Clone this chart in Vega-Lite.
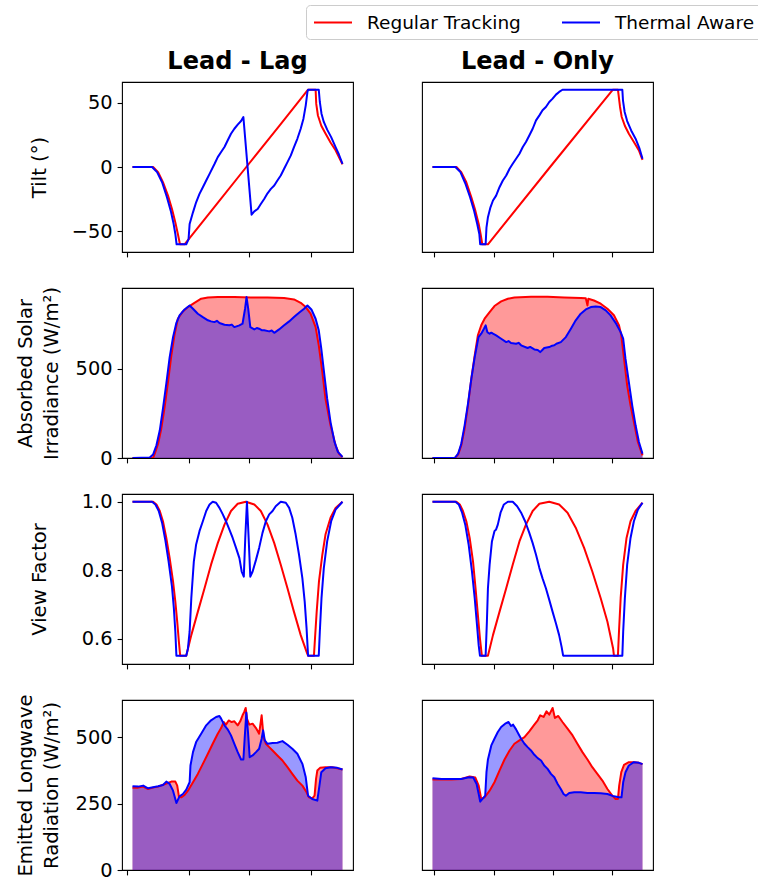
{
  "$schema": "https://vega.github.io/schema/vega-lite/v6.json",
  "padding": {"left": 14, "top": 4, "right": 0, "bottom": 0},
  "columns": 2,
  "spacing": {"row": 36, "column": 69},
  "bounds": "flush",
  "datasets": {
    "tilt_lag": [
      {"t":0,"m":"Regular Tracking","v":0},{"t":9.8,"m":"Regular Tracking","v":0},{"t":12.2,"m":"Regular Tracking","v":-4},{"t":14.5,"m":"Regular Tracking","v":-11.8},{"t":16.9,"m":"Regular Tracking","v":-22.2},{"t":18.8,"m":"Regular Tracking","v":-32.6},{"t":20.4,"m":"Regular Tracking","v":-43},{"t":21.6,"m":"Regular Tracking","v":-52},{"t":22.6,"m":"Regular Tracking","v":-60},{"t":24.8,"m":"Regular Tracking","v":-60},{"t":40,"m":"Regular Tracking","v":-29},{"t":54.2,"m":"Regular Tracking","v":0},{"t":70,"m":"Regular Tracking","v":32.2},{"t":83.6,"m":"Regular Tracking","v":60},{"t":87.2,"m":"Regular Tracking","v":60},{"t":87.5,"m":"Regular Tracking","v":49},{"t":88.3,"m":"Regular Tracking","v":40},{"t":89.9,"m":"Regular Tracking","v":32},{"t":91.9,"m":"Regular Tracking","v":26},{"t":94.3,"m":"Regular Tracking","v":19},{"t":96.7,"m":"Regular Tracking","v":13},{"t":98.7,"m":"Regular Tracking","v":6.4},{"t":100,"m":"Regular Tracking","v":2},
      {"t":0,"m":"Thermal Aware","v":0},{"t":9.3,"m":"Thermal Aware","v":0},{"t":11.7,"m":"Thermal Aware","v":-4},{"t":14.1,"m":"Thermal Aware","v":-11.8},{"t":16.4,"m":"Thermal Aware","v":-23.5},{"t":18.2,"m":"Thermal Aware","v":-33.9},{"t":19.6,"m":"Thermal Aware","v":-44.3},{"t":20.4,"m":"Thermal Aware","v":-52},{"t":21.0,"m":"Thermal Aware","v":-60},{"t":25.6,"m":"Thermal Aware","v":-60},{"t":26.7,"m":"Thermal Aware","v":-56},{"t":27.2,"m":"Thermal Aware","v":-44.3},{"t":28.8,"m":"Thermal Aware","v":-35.2},{"t":30.3,"m":"Thermal Aware","v":-27.4},{"t":31.9,"m":"Thermal Aware","v":-20.9},{"t":33.5,"m":"Thermal Aware","v":-15.7},{"t":35.1,"m":"Thermal Aware","v":-10.5},{"t":36.7,"m":"Thermal Aware","v":-5.3},{"t":39.1,"m":"Thermal Aware","v":2.5},{"t":40.6,"m":"Thermal Aware","v":7.7},{"t":42.2,"m":"Thermal Aware","v":11.6},{"t":43.8,"m":"Thermal Aware","v":15.5},{"t":45.3,"m":"Thermal Aware","v":20.6},{"t":46.9,"m":"Thermal Aware","v":25.8},{"t":48.5,"m":"Thermal Aware","v":29.7},{"t":50.1,"m":"Thermal Aware","v":32.9},{"t":51.7,"m":"Thermal Aware","v":35.7},{"t":52.8,"m":"Thermal Aware","v":38.8},{"t":56.7,"m":"Thermal Aware","v":-37},{"t":58.0,"m":"Thermal Aware","v":-34.4},{"t":59.6,"m":"Thermal Aware","v":-32.6},{"t":61.1,"m":"Thermal Aware","v":-28.7},{"t":62.7,"m":"Thermal Aware","v":-24.8},{"t":64.3,"m":"Thermal Aware","v":-20.4},{"t":65.9,"m":"Thermal Aware","v":-17},{"t":67.5,"m":"Thermal Aware","v":-14.4},{"t":69.0,"m":"Thermal Aware","v":-10.5},{"t":70.6,"m":"Thermal Aware","v":-6.6},{"t":72.2,"m":"Thermal Aware","v":-1.4},{"t":73.8,"m":"Thermal Aware","v":3.8},{"t":75.4,"m":"Thermal Aware","v":9},{"t":76.9,"m":"Thermal Aware","v":15.5},{"t":78.5,"m":"Thermal Aware","v":21.9},{"t":80.1,"m":"Thermal Aware","v":29.7},{"t":81.4,"m":"Thermal Aware","v":37.5},{"t":82.5,"m":"Thermal Aware","v":47.9},{"t":83.3,"m":"Thermal Aware","v":58.3},{"t":83.6,"m":"Thermal Aware","v":60},{"t":88.7,"m":"Thermal Aware","v":60},{"t":89.2,"m":"Thermal Aware","v":50.5},{"t":90.0,"m":"Thermal Aware","v":41.4},{"t":91.1,"m":"Thermal Aware","v":35},{"t":92.7,"m":"Thermal Aware","v":29},{"t":94.6,"m":"Thermal Aware","v":23.2},{"t":96.7,"m":"Thermal Aware","v":15.5},{"t":98.3,"m":"Thermal Aware","v":9.7},{"t":100,"m":"Thermal Aware","v":2.5}
    ],
    "tilt_only": [
      {"t":0,"m":"Regular Tracking","v":0},{"t":11.4,"m":"Regular Tracking","v":0},{"t":13.7,"m":"Regular Tracking","v":-4},{"t":16.1,"m":"Regular Tracking","v":-11.8},{"t":18.5,"m":"Regular Tracking","v":-23.5},{"t":20.4,"m":"Regular Tracking","v":-33.9},{"t":22.0,"m":"Regular Tracking","v":-44.3},{"t":22.9,"m":"Regular Tracking","v":-52},{"t":23.7,"m":"Regular Tracking","v":-60},{"t":26.4,"m":"Regular Tracking","v":-60},{"t":56,"m":"Regular Tracking","v":0},{"t":85.9,"m":"Regular Tracking","v":60},{"t":88.3,"m":"Regular Tracking","v":60},{"t":89.3,"m":"Regular Tracking","v":46.6},{"t":90.1,"m":"Regular Tracking","v":38.8},{"t":91.7,"m":"Regular Tracking","v":31.6},{"t":93.5,"m":"Regular Tracking","v":25.8},{"t":95.9,"m":"Regular Tracking","v":19.4},{"t":98.3,"m":"Regular Tracking","v":12.9},{"t":100,"m":"Regular Tracking","v":5.6},
      {"t":0,"m":"Thermal Aware","v":0},{"t":10.9,"m":"Thermal Aware","v":0},{"t":13.3,"m":"Thermal Aware","v":-4},{"t":15.6,"m":"Thermal Aware","v":-12.6},{"t":17.9,"m":"Thermal Aware","v":-23.5},{"t":19.8,"m":"Thermal Aware","v":-33.9},{"t":21.3,"m":"Thermal Aware","v":-44.3},{"t":22.3,"m":"Thermal Aware","v":-52},{"t":22.7,"m":"Thermal Aware","v":-60},{"t":25.3,"m":"Thermal Aware","v":-60},{"t":25.7,"m":"Thermal Aware","v":-47},{"t":26.4,"m":"Thermal Aware","v":-39},{"t":27.6,"m":"Thermal Aware","v":-31.3},{"t":28.8,"m":"Thermal Aware","v":-26},{"t":30.3,"m":"Thermal Aware","v":-22.2},{"t":31.9,"m":"Thermal Aware","v":-15.7},{"t":33.5,"m":"Thermal Aware","v":-10.5},{"t":35.1,"m":"Thermal Aware","v":-6.6},{"t":36.7,"m":"Thermal Aware","v":-1.4},{"t":38.2,"m":"Thermal Aware","v":2.5},{"t":39.8,"m":"Thermal Aware","v":6.4},{"t":41.4,"m":"Thermal Aware","v":10.3},{"t":43.0,"m":"Thermal Aware","v":15.5},{"t":44.5,"m":"Thermal Aware","v":19.4},{"t":46.1,"m":"Thermal Aware","v":24.5},{"t":47.7,"m":"Thermal Aware","v":29.7},{"t":49.3,"m":"Thermal Aware","v":36.2},{"t":50.9,"m":"Thermal Aware","v":40.1},{"t":52.4,"m":"Thermal Aware","v":44},{"t":54.0,"m":"Thermal Aware","v":46.6},{"t":55.6,"m":"Thermal Aware","v":50.5},{"t":57.2,"m":"Thermal Aware","v":53.1},{"t":58.8,"m":"Thermal Aware","v":56.2},{"t":60.3,"m":"Thermal Aware","v":58.3},{"t":61.9,"m":"Thermal Aware","v":60},{"t":90.4,"m":"Thermal Aware","v":60},{"t":90.7,"m":"Thermal Aware","v":51.8},{"t":91.5,"m":"Thermal Aware","v":42.7},{"t":92.7,"m":"Thermal Aware","v":35.7},{"t":94.6,"m":"Thermal Aware","v":28.4},{"t":96.7,"m":"Thermal Aware","v":22},{"t":98.6,"m":"Thermal Aware","v":14.2},{"t":100,"m":"Thermal Aware","v":6.4}
    ],
    "sol_lag": [
      {"t":0,"m":"Regular Tracking","v":0},{"t":9.8,"m":"Regular Tracking","v":0},{"t":10.6,"m":"Regular Tracking","v":24},{"t":12.2,"m":"Regular Tracking","v":80},{"t":13.7,"m":"Regular Tracking","v":164},{"t":15.3,"m":"Regular Tracking","v":285},{"t":16.9,"m":"Regular Tracking","v":425},{"t":18.5,"m":"Regular Tracking","v":575},{"t":20.1,"m":"Regular Tracking","v":696},{"t":21.6,"m":"Regular Tracking","v":780},{"t":24.0,"m":"Regular Tracking","v":821},{"t":26.4,"m":"Regular Tracking","v":845},{"t":29.5,"m":"Regular Tracking","v":869},{"t":32.7,"m":"Regular Tracking","v":892},{"t":35.9,"m":"Regular Tracking","v":899},{"t":40.6,"m":"Regular Tracking","v":901},{"t":48.5,"m":"Regular Tracking","v":901},{"t":56.4,"m":"Regular Tracking","v":899},{"t":64.3,"m":"Regular Tracking","v":899},{"t":72.2,"m":"Regular Tracking","v":896},{"t":76.9,"m":"Regular Tracking","v":888},{"t":80.1,"m":"Regular Tracking","v":869},{"t":82.5,"m":"Regular Tracking","v":845},{"t":84.8,"m":"Regular Tracking","v":808},{"t":87.2,"m":"Regular Tracking","v":733},{"t":88.7,"m":"Regular Tracking","v":631},{"t":90.4,"m":"Regular Tracking","v":481},{"t":91.9,"m":"Regular Tracking","v":332},{"t":94.3,"m":"Regular Tracking","v":183},{"t":96.7,"m":"Regular Tracking","v":71},{"t":98.3,"m":"Regular Tracking","v":24},{"t":100,"m":"Regular Tracking","v":5},
      {"t":0,"m":"Thermal Aware","v":0},{"t":8.2,"m":"Thermal Aware","v":3},{"t":9.8,"m":"Thermal Aware","v":19},{"t":11.4,"m":"Thermal Aware","v":71},{"t":13.0,"m":"Thermal Aware","v":155},{"t":14.5,"m":"Thermal Aware","v":276},{"t":16.1,"m":"Thermal Aware","v":416},{"t":17.7,"m":"Thermal Aware","v":565},{"t":19.3,"m":"Thermal Aware","v":677},{"t":20.9,"m":"Thermal Aware","v":757},{"t":22.4,"m":"Thermal Aware","v":799},{"t":24.8,"m":"Thermal Aware","v":832},{"t":27.2,"m":"Thermal Aware","v":854},{"t":28.8,"m":"Thermal Aware","v":836},{"t":31.1,"m":"Thermal Aware","v":808},{"t":33.5,"m":"Thermal Aware","v":789},{"t":35.9,"m":"Thermal Aware","v":771},{"t":37.4,"m":"Thermal Aware","v":765},{"t":39.0,"m":"Thermal Aware","v":761},{"t":40.2,"m":"Thermal Aware","v":768},{"t":41.4,"m":"Thermal Aware","v":756},{"t":43.8,"m":"Thermal Aware","v":746},{"t":46.1,"m":"Thermal Aware","v":743},{"t":47.3,"m":"Thermal Aware","v":747},{"t":48.5,"m":"Thermal Aware","v":733},{"t":50.9,"m":"Thermal Aware","v":743},{"t":52.4,"m":"Thermal Aware","v":752},{"t":53.6,"m":"Thermal Aware","v":836},{"t":54.3,"m":"Thermal Aware","v":901},{"t":55.1,"m":"Thermal Aware","v":836},{"t":56.1,"m":"Thermal Aware","v":733},{"t":58.0,"m":"Thermal Aware","v":720},{"t":59.2,"m":"Thermal Aware","v":728},{"t":60.3,"m":"Thermal Aware","v":724},{"t":61.5,"m":"Thermal Aware","v":716},{"t":62.7,"m":"Thermal Aware","v":715},{"t":65.1,"m":"Thermal Aware","v":709},{"t":66.3,"m":"Thermal Aware","v":714},{"t":67.5,"m":"Thermal Aware","v":701},{"t":69.8,"m":"Thermal Aware","v":720},{"t":72.2,"m":"Thermal Aware","v":743},{"t":74.6,"m":"Thermal Aware","v":765},{"t":76.9,"m":"Thermal Aware","v":789},{"t":79.3,"m":"Thermal Aware","v":813},{"t":81.7,"m":"Thermal Aware","v":836},{"t":83.3,"m":"Thermal Aware","v":854},{"t":85.2,"m":"Thermal Aware","v":832},{"t":87.2,"m":"Thermal Aware","v":780},{"t":88.7,"m":"Thermal Aware","v":715},{"t":89.9,"m":"Thermal Aware","v":612},{"t":91.2,"m":"Thermal Aware","v":481},{"t":92.7,"m":"Thermal Aware","v":332},{"t":94.3,"m":"Thermal Aware","v":201},{"t":96.2,"m":"Thermal Aware","v":90},{"t":97.8,"m":"Thermal Aware","v":34},{"t":100,"m":"Thermal Aware","v":6}
    ],
    "sol_only": [
      {"t":0,"m":"Regular Tracking","v":0},{"t":10.6,"m":"Regular Tracking","v":0},{"t":12.2,"m":"Regular Tracking","v":19},{"t":13.7,"m":"Regular Tracking","v":71},{"t":15.3,"m":"Regular Tracking","v":164},{"t":16.9,"m":"Regular Tracking","v":295},{"t":18.5,"m":"Regular Tracking","v":444},{"t":20.1,"m":"Regular Tracking","v":575},{"t":21.6,"m":"Regular Tracking","v":687},{"t":23.2,"m":"Regular Tracking","v":743},{"t":24.8,"m":"Regular Tracking","v":780},{"t":27.2,"m":"Regular Tracking","v":817},{"t":29.5,"m":"Regular Tracking","v":851},{"t":32.7,"m":"Regular Tracking","v":877},{"t":35.9,"m":"Regular Tracking","v":892},{"t":39.0,"m":"Regular Tracking","v":899},{"t":46.9,"m":"Regular Tracking","v":903},{"t":54.8,"m":"Regular Tracking","v":903},{"t":62.7,"m":"Regular Tracking","v":899},{"t":70.6,"m":"Regular Tracking","v":896},{"t":73.0,"m":"Regular Tracking","v":894},{"t":73.8,"m":"Regular Tracking","v":854},{"t":74.2,"m":"Regular Tracking","v":892},{"t":76.9,"m":"Regular Tracking","v":882},{"t":80.1,"m":"Regular Tracking","v":864},{"t":83.3,"m":"Regular Tracking","v":836},{"t":86.4,"m":"Regular Tracking","v":799},{"t":88.8,"m":"Regular Tracking","v":743},{"t":89.9,"m":"Regular Tracking","v":687},{"t":91.2,"m":"Regular Tracking","v":556},{"t":92.7,"m":"Regular Tracking","v":407},{"t":94.3,"m":"Regular Tracking","v":295},{"t":95.9,"m":"Regular Tracking","v":201},{"t":97.8,"m":"Regular Tracking","v":90},{"t":100,"m":"Regular Tracking","v":15},
      {"t":0,"m":"Thermal Aware","v":0},{"t":10.6,"m":"Thermal Aware","v":0},{"t":12.2,"m":"Thermal Aware","v":24},{"t":13.7,"m":"Thermal Aware","v":80},{"t":15.3,"m":"Thermal Aware","v":183},{"t":16.9,"m":"Thermal Aware","v":304},{"t":18.5,"m":"Thermal Aware","v":444},{"t":20.1,"m":"Thermal Aware","v":565},{"t":21.9,"m":"Thermal Aware","v":677},{"t":23.2,"m":"Thermal Aware","v":696},{"t":24.5,"m":"Thermal Aware","v":724},{"t":25.3,"m":"Thermal Aware","v":743},{"t":26.1,"m":"Thermal Aware","v":705},{"t":27.2,"m":"Thermal Aware","v":696},{"t":28.0,"m":"Thermal Aware","v":702},{"t":28.8,"m":"Thermal Aware","v":696},{"t":30.3,"m":"Thermal Aware","v":687},{"t":32.7,"m":"Thermal Aware","v":668},{"t":35.1,"m":"Thermal Aware","v":649},{"t":36.2,"m":"Thermal Aware","v":655},{"t":37.4,"m":"Thermal Aware","v":644},{"t":39.8,"m":"Thermal Aware","v":640},{"t":41.0,"m":"Thermal Aware","v":645},{"t":42.2,"m":"Thermal Aware","v":631},{"t":45.3,"m":"Thermal Aware","v":616},{"t":46.5,"m":"Thermal Aware","v":622},{"t":48.5,"m":"Thermal Aware","v":608},{"t":50.1,"m":"Thermal Aware","v":605},{"t":51.3,"m":"Thermal Aware","v":593},{"t":52.3,"m":"Thermal Aware","v":605},{"t":53.2,"m":"Thermal Aware","v":616},{"t":55.6,"m":"Thermal Aware","v":621},{"t":57.0,"m":"Thermal Aware","v":629},{"t":58.0,"m":"Thermal Aware","v":631},{"t":59.0,"m":"Thermal Aware","v":640},{"t":61.1,"m":"Thermal Aware","v":649},{"t":63.5,"m":"Thermal Aware","v":677},{"t":65.9,"m":"Thermal Aware","v":724},{"t":68.2,"m":"Thermal Aware","v":771},{"t":70.6,"m":"Thermal Aware","v":808},{"t":73.0,"m":"Thermal Aware","v":832},{"t":75.4,"m":"Thermal Aware","v":845},{"t":77.7,"m":"Thermal Aware","v":849},{"t":80.1,"m":"Thermal Aware","v":845},{"t":82.5,"m":"Thermal Aware","v":827},{"t":84.8,"m":"Thermal Aware","v":799},{"t":87.2,"m":"Thermal Aware","v":757},{"t":89.6,"m":"Thermal Aware","v":705},{"t":90.8,"m":"Thermal Aware","v":668},{"t":91.9,"m":"Thermal Aware","v":556},{"t":93.5,"m":"Thermal Aware","v":425},{"t":95.1,"m":"Thermal Aware","v":295},{"t":96.7,"m":"Thermal Aware","v":183},{"t":98.3,"m":"Thermal Aware","v":90},{"t":100,"m":"Thermal Aware","v":24}
    ],
    "vf_lag": [
      {"t":0,"m":"Regular Tracking","v":1},{"t":9.8,"m":"Regular Tracking","v":1},{"t":11.4,"m":"Regular Tracking","v":0.992},{"t":13.0,"m":"Regular Tracking","v":0.973},{"t":14.5,"m":"Regular Tracking","v":0.943},{"t":16.1,"m":"Regular Tracking","v":0.894},{"t":17.7,"m":"Regular Tracking","v":0.835},{"t":19.3,"m":"Regular Tracking","v":0.767},{"t":20.4,"m":"Regular Tracking","v":0.708},{"t":21.3,"m":"Regular Tracking","v":0.649},{"t":22.1,"m":"Regular Tracking","v":0.59},{"t":22.7,"m":"Regular Tracking","v":0.55},{"t":25.6,"m":"Regular Tracking","v":0.55},{"t":28.0,"m":"Regular Tracking","v":0.61},{"t":31.1,"m":"Regular Tracking","v":0.678},{"t":34.3,"m":"Regular Tracking","v":0.747},{"t":37.4,"m":"Regular Tracking","v":0.816},{"t":40.6,"m":"Regular Tracking","v":0.879},{"t":43.8,"m":"Regular Tracking","v":0.933},{"t":46.9,"m":"Regular Tracking","v":0.973},{"t":50.1,"m":"Regular Tracking","v":0.994},{"t":54.0,"m":"Regular Tracking","v":1.0},{"t":58.0,"m":"Regular Tracking","v":0.992},{"t":61.1,"m":"Regular Tracking","v":0.973},{"t":64.3,"m":"Regular Tracking","v":0.933},{"t":67.5,"m":"Regular Tracking","v":0.879},{"t":70.6,"m":"Regular Tracking","v":0.816},{"t":73.8,"m":"Regular Tracking","v":0.747},{"t":76.9,"m":"Regular Tracking","v":0.678},{"t":80.1,"m":"Regular Tracking","v":0.61},{"t":82.9,"m":"Regular Tracking","v":0.561},{"t":83.6,"m":"Regular Tracking","v":0.55},{"t":86.4,"m":"Regular Tracking","v":0.55},{"t":86.9,"m":"Regular Tracking","v":0.6},{"t":87.7,"m":"Regular Tracking","v":0.678},{"t":88.8,"m":"Regular Tracking","v":0.767},{"t":90.4,"m":"Regular Tracking","v":0.845},{"t":91.9,"m":"Regular Tracking","v":0.904},{"t":94.3,"m":"Regular Tracking","v":0.953},{"t":96.7,"m":"Regular Tracking","v":0.982},{"t":100,"m":"Regular Tracking","v":1.0},
      {"t":0,"m":"Thermal Aware","v":1},{"t":9.3,"m":"Thermal Aware","v":1},{"t":10.9,"m":"Thermal Aware","v":0.992},{"t":12.5,"m":"Thermal Aware","v":0.973},{"t":14.1,"m":"Thermal Aware","v":0.938},{"t":15.6,"m":"Thermal Aware","v":0.889},{"t":17.2,"m":"Thermal Aware","v":0.825},{"t":18.8,"m":"Thermal Aware","v":0.752},{"t":19.7,"m":"Thermal Aware","v":0.688},{"t":20.4,"m":"Thermal Aware","v":0.62},{"t":20.9,"m":"Thermal Aware","v":0.55},{"t":25.6,"m":"Thermal Aware","v":0.55},{"t":26.4,"m":"Thermal Aware","v":0.571},{"t":27.2,"m":"Thermal Aware","v":0.62},{"t":28.0,"m":"Thermal Aware","v":0.718},{"t":29.2,"m":"Thermal Aware","v":0.825},{"t":30.3,"m":"Thermal Aware","v":0.875},{"t":31.9,"m":"Thermal Aware","v":0.914},{"t":33.5,"m":"Thermal Aware","v":0.943},{"t":35.1,"m":"Thermal Aware","v":0.973},{"t":36.7,"m":"Thermal Aware","v":0.992},{"t":38.2,"m":"Thermal Aware","v":1.0},{"t":39.8,"m":"Thermal Aware","v":0.997},{"t":41.4,"m":"Thermal Aware","v":0.982},{"t":43.0,"m":"Thermal Aware","v":0.963},{"t":44.5,"m":"Thermal Aware","v":0.943},{"t":46.1,"m":"Thermal Aware","v":0.919},{"t":47.7,"m":"Thermal Aware","v":0.894},{"t":49.3,"m":"Thermal Aware","v":0.865},{"t":50.9,"m":"Thermal Aware","v":0.835},{"t":52.0,"m":"Thermal Aware","v":0.796},{"t":53.0,"m":"Thermal Aware","v":0.781},{"t":53.7,"m":"Thermal Aware","v":0.894},{"t":54.5,"m":"Thermal Aware","v":1.0},{"t":55.3,"m":"Thermal Aware","v":0.894},{"t":56.1,"m":"Thermal Aware","v":0.781},{"t":57.2,"m":"Thermal Aware","v":0.796},{"t":58.8,"m":"Thermal Aware","v":0.83},{"t":60.3,"m":"Thermal Aware","v":0.865},{"t":61.9,"m":"Thermal Aware","v":0.909},{"t":63.5,"m":"Thermal Aware","v":0.943},{"t":65.1,"m":"Thermal Aware","v":0.963},{"t":66.7,"m":"Thermal Aware","v":0.973},{"t":68.2,"m":"Thermal Aware","v":0.987},{"t":70.6,"m":"Thermal Aware","v":1.0},{"t":73.0,"m":"Thermal Aware","v":0.997},{"t":74.6,"m":"Thermal Aware","v":0.982},{"t":76.1,"m":"Thermal Aware","v":0.953},{"t":77.7,"m":"Thermal Aware","v":0.904},{"t":79.3,"m":"Thermal Aware","v":0.845},{"t":80.9,"m":"Thermal Aware","v":0.776},{"t":82.0,"m":"Thermal Aware","v":0.708},{"t":82.9,"m":"Thermal Aware","v":0.629},{"t":83.6,"m":"Thermal Aware","v":0.55},{"t":88.7,"m":"Thermal Aware","v":0.55},{"t":89.2,"m":"Thermal Aware","v":0.62},{"t":90.0,"m":"Thermal Aware","v":0.718},{"t":91.1,"m":"Thermal Aware","v":0.806},{"t":92.7,"m":"Thermal Aware","v":0.884},{"t":94.6,"m":"Thermal Aware","v":0.943},{"t":96.7,"m":"Thermal Aware","v":0.977},{"t":100,"m":"Thermal Aware","v":1.0}
    ],
    "vf_only": [
      {"t":0,"m":"Regular Tracking","v":1},{"t":11.4,"m":"Regular Tracking","v":1},{"t":13.0,"m":"Regular Tracking","v":0.992},{"t":14.5,"m":"Regular Tracking","v":0.973},{"t":16.1,"m":"Regular Tracking","v":0.943},{"t":17.7,"m":"Regular Tracking","v":0.894},{"t":19.3,"m":"Regular Tracking","v":0.825},{"t":20.5,"m":"Regular Tracking","v":0.747},{"t":21.6,"m":"Regular Tracking","v":0.669},{"t":22.6,"m":"Regular Tracking","v":0.6},{"t":23.5,"m":"Regular Tracking","v":0.55},{"t":26.4,"m":"Regular Tracking","v":0.55},{"t":28.8,"m":"Regular Tracking","v":0.61},{"t":31.9,"m":"Regular Tracking","v":0.678},{"t":35.1,"m":"Regular Tracking","v":0.747},{"t":38.2,"m":"Regular Tracking","v":0.816},{"t":41.4,"m":"Regular Tracking","v":0.884},{"t":44.5,"m":"Regular Tracking","v":0.933},{"t":47.7,"m":"Regular Tracking","v":0.973},{"t":50.9,"m":"Regular Tracking","v":0.994},{"t":55.6,"m":"Regular Tracking","v":1.0},{"t":60.3,"m":"Regular Tracking","v":0.992},{"t":64.3,"m":"Regular Tracking","v":0.968},{"t":68.2,"m":"Regular Tracking","v":0.924},{"t":72.2,"m":"Regular Tracking","v":0.865},{"t":76.1,"m":"Regular Tracking","v":0.796},{"t":80.1,"m":"Regular Tracking","v":0.718},{"t":83.3,"m":"Regular Tracking","v":0.649},{"t":86.0,"m":"Regular Tracking","v":0.571},{"t":86.4,"m":"Regular Tracking","v":0.55},{"t":88.3,"m":"Regular Tracking","v":0.55},{"t":88.8,"m":"Regular Tracking","v":0.62},{"t":89.6,"m":"Regular Tracking","v":0.718},{"t":90.8,"m":"Regular Tracking","v":0.816},{"t":92.4,"m":"Regular Tracking","v":0.894},{"t":94.3,"m":"Regular Tracking","v":0.943},{"t":96.7,"m":"Regular Tracking","v":0.973},{"t":100,"m":"Regular Tracking","v":0.997},
      {"t":0,"m":"Thermal Aware","v":1},{"t":10.9,"m":"Thermal Aware","v":1},{"t":12.5,"m":"Thermal Aware","v":0.992},{"t":14.1,"m":"Thermal Aware","v":0.968},{"t":15.6,"m":"Thermal Aware","v":0.933},{"t":17.2,"m":"Thermal Aware","v":0.875},{"t":18.8,"m":"Thermal Aware","v":0.796},{"t":20.1,"m":"Thermal Aware","v":0.718},{"t":21.2,"m":"Thermal Aware","v":0.639},{"t":22.0,"m":"Thermal Aware","v":0.58},{"t":22.6,"m":"Thermal Aware","v":0.55},{"t":25.3,"m":"Thermal Aware","v":0.55},{"t":25.9,"m":"Thermal Aware","v":0.649},{"t":26.4,"m":"Thermal Aware","v":0.747},{"t":27.2,"m":"Thermal Aware","v":0.816},{"t":28.3,"m":"Thermal Aware","v":0.884},{"t":29.5,"m":"Thermal Aware","v":0.914},{"t":30.3,"m":"Thermal Aware","v":0.919},{"t":31.1,"m":"Thermal Aware","v":0.933},{"t":32.4,"m":"Thermal Aware","v":0.968},{"t":34.0,"m":"Thermal Aware","v":0.992},{"t":35.9,"m":"Thermal Aware","v":1.0},{"t":38.2,"m":"Thermal Aware","v":1.0},{"t":40.3,"m":"Thermal Aware","v":0.987},{"t":42.2,"m":"Thermal Aware","v":0.968},{"t":44.1,"m":"Thermal Aware","v":0.943},{"t":46.1,"m":"Thermal Aware","v":0.909},{"t":47.7,"m":"Thermal Aware","v":0.879},{"t":49.3,"m":"Thermal Aware","v":0.845},{"t":50.9,"m":"Thermal Aware","v":0.806},{"t":52.4,"m":"Thermal Aware","v":0.776},{"t":54.0,"m":"Thermal Aware","v":0.747},{"t":55.6,"m":"Thermal Aware","v":0.713},{"t":57.2,"m":"Thermal Aware","v":0.678},{"t":58.8,"m":"Thermal Aware","v":0.644},{"t":60.3,"m":"Thermal Aware","v":0.61},{"t":61.5,"m":"Thermal Aware","v":0.575},{"t":62.2,"m":"Thermal Aware","v":0.55},{"t":90.4,"m":"Thermal Aware","v":0.55},{"t":90.8,"m":"Thermal Aware","v":0.62},{"t":91.6,"m":"Thermal Aware","v":0.718},{"t":92.7,"m":"Thermal Aware","v":0.816},{"t":94.3,"m":"Thermal Aware","v":0.894},{"t":95.9,"m":"Thermal Aware","v":0.943},{"t":97.8,"m":"Thermal Aware","v":0.977},{"t":100,"m":"Thermal Aware","v":0.997}
    ],
    "lw_lag": [
      {"t":0,"m":"Regular Tracking","v":310.6},{"t":2.7,"m":"Regular Tracking","v":310.6},{"t":5.1,"m":"Regular Tracking","v":314.4},{"t":7.4,"m":"Regular Tracking","v":305.5},{"t":9.8,"m":"Regular Tracking","v":310.6},{"t":12.2,"m":"Regular Tracking","v":314.4},{"t":15.3,"m":"Regular Tracking","v":323.2},{"t":18.5,"m":"Regular Tracking","v":333.3},{"t":20.4,"m":"Regular Tracking","v":333.3},{"t":21.3,"m":"Regular Tracking","v":318.2},{"t":22.1,"m":"Regular Tracking","v":277.8},{"t":23.2,"m":"Regular Tracking","v":274},{"t":24.8,"m":"Regular Tracking","v":282.8},{"t":26.4,"m":"Regular Tracking","v":299.2},{"t":28.8,"m":"Regular Tracking","v":330.8},{"t":31.1,"m":"Regular Tracking","v":362.4},{"t":33.5,"m":"Regular Tracking","v":400.2},{"t":35.9,"m":"Regular Tracking","v":438.1},{"t":38.2,"m":"Regular Tracking","v":476},{"t":40.6,"m":"Regular Tracking","v":513.9},{"t":42.2,"m":"Regular Tracking","v":535.3},{"t":43.4,"m":"Regular Tracking","v":558},{"t":44.5,"m":"Regular Tracking","v":548},{"t":45.8,"m":"Regular Tracking","v":564},{"t":47.2,"m":"Regular Tracking","v":558},{"t":48.5,"m":"Regular Tracking","v":560.6},{"t":50.1,"m":"Regular Tracking","v":545.4},{"t":51.3,"m":"Regular Tracking","v":560.6},{"t":52.4,"m":"Regular Tracking","v":583.3},{"t":53.2,"m":"Regular Tracking","v":596},{"t":53.9,"m":"Regular Tracking","v":611},{"t":54.5,"m":"Regular Tracking","v":570.7},{"t":55.6,"m":"Regular Tracking","v":548},{"t":57.2,"m":"Regular Tracking","v":551.8},{"t":58.8,"m":"Regular Tracking","v":535.3},{"t":60.3,"m":"Regular Tracking","v":513.9},{"t":61.5,"m":"Regular Tracking","v":583.3},{"t":62.4,"m":"Regular Tracking","v":501.3},{"t":63.5,"m":"Regular Tracking","v":476},{"t":65.1,"m":"Regular Tracking","v":463.4},{"t":66.7,"m":"Regular Tracking","v":450.7},{"t":69.0,"m":"Regular Tracking","v":431.8},{"t":71.4,"m":"Regular Tracking","v":412.9},{"t":73.8,"m":"Regular Tracking","v":387.6},{"t":76.1,"m":"Regular Tracking","v":362.4},{"t":78.5,"m":"Regular Tracking","v":337.1},{"t":80.9,"m":"Regular Tracking","v":318.2},{"t":82.9,"m":"Regular Tracking","v":292.9},{"t":84.0,"m":"Regular Tracking","v":274},{"t":85.6,"m":"Regular Tracking","v":270.2},{"t":86.7,"m":"Regular Tracking","v":280.3},{"t":87.4,"m":"Regular Tracking","v":343.4},{"t":88.0,"m":"Regular Tracking","v":375},{"t":89.3,"m":"Regular Tracking","v":385.1},{"t":91.9,"m":"Regular Tracking","v":387.6},{"t":95.1,"m":"Regular Tracking","v":387.6},{"t":97.5,"m":"Regular Tracking","v":383.8},{"t":100,"m":"Regular Tracking","v":378.8},
      {"t":0,"m":"Thermal Aware","v":315.7},{"t":2.7,"m":"Thermal Aware","v":314.4},{"t":5.1,"m":"Thermal Aware","v":318.2},{"t":7.4,"m":"Thermal Aware","v":308.1},{"t":9.8,"m":"Thermal Aware","v":311.9},{"t":12.2,"m":"Thermal Aware","v":315.7},{"t":14.5,"m":"Thermal Aware","v":320.7},{"t":16.1,"m":"Thermal Aware","v":333.3},{"t":17.7,"m":"Thermal Aware","v":324.5},{"t":19.3,"m":"Thermal Aware","v":299.2},{"t":20.9,"m":"Thermal Aware","v":252.5},{"t":22.4,"m":"Thermal Aware","v":277.8},{"t":24.0,"m":"Thermal Aware","v":286.6},{"t":25.6,"m":"Thermal Aware","v":303},{"t":27.2,"m":"Thermal Aware","v":330.8},{"t":27.6,"m":"Thermal Aware","v":393.9},{"t":28.8,"m":"Thermal Aware","v":444.4},{"t":30.3,"m":"Thermal Aware","v":482.3},{"t":32.7,"m":"Thermal Aware","v":513.9},{"t":35.1,"m":"Thermal Aware","v":545.4},{"t":37.4,"m":"Thermal Aware","v":564.4},{"t":39.8,"m":"Thermal Aware","v":577},{"t":41.4,"m":"Thermal Aware","v":580.8},{"t":42.2,"m":"Thermal Aware","v":570.7},{"t":43.8,"m":"Thermal Aware","v":545.4},{"t":45.3,"m":"Thermal Aware","v":530.3},{"t":46.9,"m":"Thermal Aware","v":507.6},{"t":48.5,"m":"Thermal Aware","v":476},{"t":50.1,"m":"Thermal Aware","v":444.4},{"t":51.7,"m":"Thermal Aware","v":416.7},{"t":52.8,"m":"Thermal Aware","v":416.7},{"t":53.4,"m":"Thermal Aware","v":494.9},{"t":54.2,"m":"Thermal Aware","v":593.4},{"t":55.0,"m":"Thermal Aware","v":520.2},{"t":55.8,"m":"Thermal Aware","v":425.5},{"t":57.2,"m":"Thermal Aware","v":431.8},{"t":58.8,"m":"Thermal Aware","v":444.4},{"t":60.3,"m":"Thermal Aware","v":457.1},{"t":61.5,"m":"Thermal Aware","v":494.9},{"t":62.2,"m":"Thermal Aware","v":526.5},{"t":63.0,"m":"Thermal Aware","v":488.6},{"t":64.3,"m":"Thermal Aware","v":476},{"t":66.7,"m":"Thermal Aware","v":478.5},{"t":69.0,"m":"Thermal Aware","v":479.8},{"t":71.4,"m":"Thermal Aware","v":486.1},{"t":73.8,"m":"Thermal Aware","v":472.2},{"t":76.1,"m":"Thermal Aware","v":457.1},{"t":78.5,"m":"Thermal Aware","v":438.1},{"t":80.9,"m":"Thermal Aware","v":400.2},{"t":82.5,"m":"Thermal Aware","v":349.7},{"t":83.6,"m":"Thermal Aware","v":280.3},{"t":85.6,"m":"Thermal Aware","v":267.7},{"t":88.0,"m":"Thermal Aware","v":261.4},{"t":88.8,"m":"Thermal Aware","v":305.5},{"t":89.9,"m":"Thermal Aware","v":368.7},{"t":91.9,"m":"Thermal Aware","v":383.8},{"t":94.3,"m":"Thermal Aware","v":387.6},{"t":97.5,"m":"Thermal Aware","v":385.1},{"t":100,"m":"Thermal Aware","v":378.8}
    ],
    "lw_only": [
      {"t":0,"m":"Regular Tracking","v":340.9},{"t":4.3,"m":"Regular Tracking","v":340.9},{"t":9.0,"m":"Regular Tracking","v":340.9},{"t":13.7,"m":"Regular Tracking","v":343.4},{"t":17.7,"m":"Regular Tracking","v":352.3},{"t":20.4,"m":"Regular Tracking","v":348.5},{"t":22.0,"m":"Regular Tracking","v":318.2},{"t":23.2,"m":"Regular Tracking","v":267.7},{"t":24.8,"m":"Regular Tracking","v":274},{"t":27.2,"m":"Regular Tracking","v":299.2},{"t":29.5,"m":"Regular Tracking","v":330.8},{"t":31.9,"m":"Regular Tracking","v":375},{"t":34.3,"m":"Regular Tracking","v":416.7},{"t":36.7,"m":"Regular Tracking","v":450.7},{"t":39.0,"m":"Regular Tracking","v":476},{"t":41.4,"m":"Regular Tracking","v":488.6},{"t":43.8,"m":"Regular Tracking","v":501.3},{"t":46.1,"m":"Regular Tracking","v":522.7},{"t":48.5,"m":"Regular Tracking","v":548},{"t":50.1,"m":"Regular Tracking","v":564.4},{"t":51.3,"m":"Regular Tracking","v":583.3},{"t":52.9,"m":"Regular Tracking","v":577},{"t":54.3,"m":"Regular Tracking","v":598.5},{"t":55.6,"m":"Regular Tracking","v":585.8},{"t":57.2,"m":"Regular Tracking","v":611},{"t":58.3,"m":"Regular Tracking","v":573.2},{"t":59.9,"m":"Regular Tracking","v":580.8},{"t":61.9,"m":"Regular Tracking","v":558},{"t":64.3,"m":"Regular Tracking","v":532.8},{"t":66.7,"m":"Regular Tracking","v":507.6},{"t":69.0,"m":"Regular Tracking","v":476},{"t":71.4,"m":"Regular Tracking","v":444.4},{"t":73.8,"m":"Regular Tracking","v":416.7},{"t":76.1,"m":"Regular Tracking","v":387.6},{"t":78.5,"m":"Regular Tracking","v":362.4},{"t":80.9,"m":"Regular Tracking","v":337.1},{"t":83.3,"m":"Regular Tracking","v":305.5},{"t":85.6,"m":"Regular Tracking","v":280.3},{"t":87.2,"m":"Regular Tracking","v":267.7},{"t":88.3,"m":"Regular Tracking","v":267.7},{"t":88.9,"m":"Regular Tracking","v":318.2},{"t":89.9,"m":"Regular Tracking","v":368.7},{"t":91.2,"m":"Regular Tracking","v":396.5},{"t":93.5,"m":"Regular Tracking","v":406.6},{"t":95.9,"m":"Regular Tracking","v":406.6},{"t":98.3,"m":"Regular Tracking","v":404},{"t":100,"m":"Regular Tracking","v":399},
      {"t":0,"m":"Thermal Aware","v":346},{"t":4.3,"m":"Thermal Aware","v":343.4},{"t":9.0,"m":"Thermal Aware","v":343.4},{"t":13.7,"m":"Thermal Aware","v":343.4},{"t":17.3,"m":"Thermal Aware","v":349.7},{"t":19.4,"m":"Thermal Aware","v":348.5},{"t":21.0,"m":"Thermal Aware","v":324.5},{"t":22.0,"m":"Thermal Aware","v":286.6},{"t":22.7,"m":"Thermal Aware","v":257.6},{"t":24.0,"m":"Thermal Aware","v":270.2},{"t":25.1,"m":"Thermal Aware","v":280.3},{"t":25.7,"m":"Thermal Aware","v":368.7},{"t":26.4,"m":"Thermal Aware","v":416.7},{"t":28.0,"m":"Thermal Aware","v":469.7},{"t":29.5,"m":"Thermal Aware","v":494.9},{"t":31.1,"m":"Thermal Aware","v":520.2},{"t":32.7,"m":"Thermal Aware","v":539.1},{"t":34.6,"m":"Thermal Aware","v":551.8},{"t":36.2,"m":"Thermal Aware","v":558},{"t":37.4,"m":"Thermal Aware","v":542.9},{"t":38.4,"m":"Thermal Aware","v":548},{"t":39.8,"m":"Thermal Aware","v":530.3},{"t":40.9,"m":"Thermal Aware","v":513.9},{"t":42.2,"m":"Thermal Aware","v":494.9},{"t":43.8,"m":"Thermal Aware","v":476},{"t":45.3,"m":"Thermal Aware","v":463.4},{"t":46.9,"m":"Thermal Aware","v":450.7},{"t":48.5,"m":"Thermal Aware","v":434.3},{"t":50.1,"m":"Thermal Aware","v":421.7},{"t":51.7,"m":"Thermal Aware","v":412.9},{"t":53.2,"m":"Thermal Aware","v":393.9},{"t":54.8,"m":"Thermal Aware","v":381.3},{"t":56.4,"m":"Thermal Aware","v":362.4},{"t":58.0,"m":"Thermal Aware","v":349.7},{"t":59.6,"m":"Thermal Aware","v":324.5},{"t":61.1,"m":"Thermal Aware","v":305.5},{"t":62.4,"m":"Thermal Aware","v":286.6},{"t":63.5,"m":"Thermal Aware","v":280.3},{"t":65.1,"m":"Thermal Aware","v":290.4},{"t":67.5,"m":"Thermal Aware","v":292.9},{"t":70.6,"m":"Thermal Aware","v":292.9},{"t":73.8,"m":"Thermal Aware","v":290.4},{"t":76.9,"m":"Thermal Aware","v":290.4},{"t":80.1,"m":"Thermal Aware","v":289.1},{"t":83.3,"m":"Thermal Aware","v":286.6},{"t":86.4,"m":"Thermal Aware","v":277.8},{"t":88.8,"m":"Thermal Aware","v":274},{"t":90.0,"m":"Thermal Aware","v":274},{"t":90.8,"m":"Thermal Aware","v":330.8},{"t":91.9,"m":"Thermal Aware","v":368.7},{"t":93.5,"m":"Thermal Aware","v":393.9},{"t":95.9,"m":"Thermal Aware","v":406.6},{"t":98.3,"m":"Thermal Aware","v":404},{"t":100,"m":"Thermal Aware","v":399}
    ]
  },
  "concat": [
    {
      "data": {"name": "tilt_lag"}, "width": 231, "height": 170,
      "title": {"text": "Lead - Lag"},
      "encoding": {
        "x": {"field": "t", "type": "quantitative", "scale": {"domain": [-5, 105], "nice": false, "zero": false}, "axis": {"values": [-2.8, 26.7, 55.6, 85.1], "title": null}},
        "y": {"field": "v", "type": "quantitative", "scale": {"domain": [-66, 66], "nice": false, "zero": false}, "axis": {"values": [-50, 0, 50], "title": "Tilt (°)", "titleX": -83, "titleBaseline": "middle", "titleAngle": 270}}
      },
      "layer": [
        {"mark": {"type": "line", "strokeWidth": 2, "strokeJoin": "round", "clip": true}, "encoding": {"color": {"field": "m", "type": "nominal", "scale": {"domain": ["Regular Tracking", "Thermal Aware"], "range": ["#ff0000", "#0000ff"]}, "legend": {"title": null, "orient": "none", "legendX": 184, "legendY": -77, "direction": "horizontal"}}}}
      ]
    },
    {
      "data": {"name": "tilt_only"}, "width": 231, "height": 170,
      "title": {"text": "Lead - Only"},
      "encoding": {
        "x": {"field": "t", "type": "quantitative", "scale": {"domain": [-5, 105], "nice": false, "zero": false}, "axis": {"values": [0.6, 29.1, 57.3, 85.6], "title": null}},
        "y": {"field": "v", "type": "quantitative", "scale": {"domain": [-66, 66], "nice": false, "zero": false}, "axis": null}
      },
      "layer": [
        {"mark": {"type": "line", "strokeWidth": 2, "strokeJoin": "round", "clip": true}, "encoding": {"color": {"field": "m", "type": "nominal", "scale": {"domain": ["Regular Tracking", "Thermal Aware"], "range": ["#ff0000", "#0000ff"]}, "legend": {"title": null, "orient": "none", "legendX": 184, "legendY": -77, "direction": "horizontal"}}}}
      ]
    },
    {
      "data": {"name": "sol_lag"}, "width": 231, "height": 170,
      "encoding": {
        "x": {"field": "t", "type": "quantitative", "scale": {"domain": [-5, 105], "nice": false, "zero": false}, "axis": {"values": [-2.8, 26.7, 55.6, 85.1], "title": null}},
        "y": {"field": "v", "type": "quantitative", "scale": {"domain": [0, 952], "nice": false, "zero": false}, "axis": {"values": [0, 500], "title": ["Absorbed Solar", "Irradiance (W/m²)"], "titleX": -97, "titleBaseline": "middle", "titleAngle": 270}}
      },
      "layer": [
        {"transform": [{"filter": "datum.m === 'Regular Tracking'"}], "mark": {"type": "area", "color": "#ff0000", "opacity": 0.4}},
        {"transform": [{"filter": "datum.m === 'Thermal Aware'"}], "mark": {"type": "area", "color": "#0000ff", "opacity": 0.4}},
        {"mark": {"type": "line", "strokeWidth": 2, "strokeJoin": "round", "clip": true}, "encoding": {"color": {"field": "m", "type": "nominal", "scale": {"domain": ["Regular Tracking", "Thermal Aware"], "range": ["#ff0000", "#0000ff"]}, "legend": {"title": null, "orient": "none", "legendX": 184, "legendY": -77, "direction": "horizontal"}}}}
      ]
    },
    {
      "data": {"name": "sol_only"}, "width": 231, "height": 170,
      "encoding": {
        "x": {"field": "t", "type": "quantitative", "scale": {"domain": [-5, 105], "nice": false, "zero": false}, "axis": {"values": [0.6, 29.1, 57.3, 85.6], "title": null}},
        "y": {"field": "v", "type": "quantitative", "scale": {"domain": [0, 952], "nice": false, "zero": false}, "axis": null}
      },
      "layer": [
        {"transform": [{"filter": "datum.m === 'Regular Tracking'"}], "mark": {"type": "area", "color": "#ff0000", "opacity": 0.4}},
        {"transform": [{"filter": "datum.m === 'Thermal Aware'"}], "mark": {"type": "area", "color": "#0000ff", "opacity": 0.4}},
        {"mark": {"type": "line", "strokeWidth": 2, "strokeJoin": "round", "clip": true}, "encoding": {"color": {"field": "m", "type": "nominal", "scale": {"domain": ["Regular Tracking", "Thermal Aware"], "range": ["#ff0000", "#0000ff"]}, "legend": {"title": null, "orient": "none", "legendX": 184, "legendY": -77, "direction": "horizontal"}}}}
      ]
    },
    {
      "data": {"name": "vf_lag"}, "width": 231, "height": 170,
      "encoding": {
        "x": {"field": "t", "type": "quantitative", "scale": {"domain": [-5, 105], "nice": false, "zero": false}, "axis": {"values": [-2.8, 26.7, 55.6, 85.1], "title": null}},
        "y": {"field": "v", "type": "quantitative", "scale": {"domain": [0.5256, 1.0226], "nice": false, "zero": false}, "axis": {"values": [0.6, 0.8, 1.0], "format": ".1f", "title": "View Factor", "titleX": -83, "titleBaseline": "middle", "titleAngle": 270}}
      },
      "layer": [
        {"mark": {"type": "line", "strokeWidth": 2, "strokeJoin": "round", "clip": true}, "encoding": {"color": {"field": "m", "type": "nominal", "scale": {"domain": ["Regular Tracking", "Thermal Aware"], "range": ["#ff0000", "#0000ff"]}, "legend": {"title": null, "orient": "none", "legendX": 184, "legendY": -77, "direction": "horizontal"}}}}
      ]
    },
    {
      "data": {"name": "vf_only"}, "width": 231, "height": 170,
      "encoding": {
        "x": {"field": "t", "type": "quantitative", "scale": {"domain": [-5, 105], "nice": false, "zero": false}, "axis": {"values": [0.6, 29.1, 57.3, 85.6], "title": null}},
        "y": {"field": "v", "type": "quantitative", "scale": {"domain": [0.5256, 1.0226], "nice": false, "zero": false}, "axis": null}
      },
      "layer": [
        {"mark": {"type": "line", "strokeWidth": 2, "strokeJoin": "round", "clip": true}, "encoding": {"color": {"field": "m", "type": "nominal", "scale": {"domain": ["Regular Tracking", "Thermal Aware"], "range": ["#ff0000", "#0000ff"]}, "legend": {"title": null, "orient": "none", "legendX": 184, "legendY": -77, "direction": "horizontal"}}}}
      ]
    },
    {
      "data": {"name": "lw_lag"}, "width": 231, "height": 170,
      "encoding": {
        "x": {"field": "t", "type": "quantitative", "scale": {"domain": [-5, 105], "nice": false, "zero": false}, "axis": {"values": [-2.8, 26.7, 55.6, 85.1], "title": null}},
        "y": {"field": "v", "type": "quantitative", "scale": {"domain": [0, 641], "nice": false, "zero": false}, "axis": {"values": [0, 250, 500], "title": ["Emitted Longwave", "Radiation (W/m²)"], "titleX": -97, "titleBaseline": "middle", "titleAngle": 270}}
      },
      "layer": [
        {"transform": [{"filter": "datum.m === 'Regular Tracking'"}], "mark": {"type": "area", "color": "#ff0000", "opacity": 0.4}},
        {"transform": [{"filter": "datum.m === 'Thermal Aware'"}], "mark": {"type": "area", "color": "#0000ff", "opacity": 0.4}},
        {"mark": {"type": "line", "strokeWidth": 2, "strokeJoin": "round", "clip": true}, "encoding": {"color": {"field": "m", "type": "nominal", "scale": {"domain": ["Regular Tracking", "Thermal Aware"], "range": ["#ff0000", "#0000ff"]}, "legend": {"title": null, "orient": "none", "legendX": 184, "legendY": -77, "direction": "horizontal"}}}}
      ]
    },
    {
      "data": {"name": "lw_only"}, "width": 231, "height": 170,
      "encoding": {
        "x": {"field": "t", "type": "quantitative", "scale": {"domain": [-5, 105], "nice": false, "zero": false}, "axis": {"values": [0.6, 29.1, 57.3, 85.6], "title": null}},
        "y": {"field": "v", "type": "quantitative", "scale": {"domain": [0, 641], "nice": false, "zero": false}, "axis": null}
      },
      "layer": [
        {"transform": [{"filter": "datum.m === 'Regular Tracking'"}], "mark": {"type": "area", "color": "#ff0000", "opacity": 0.4}},
        {"transform": [{"filter": "datum.m === 'Thermal Aware'"}], "mark": {"type": "area", "color": "#0000ff", "opacity": 0.4}},
        {"mark": {"type": "line", "strokeWidth": 2, "strokeJoin": "round", "clip": true}, "encoding": {"color": {"field": "m", "type": "nominal", "scale": {"domain": ["Regular Tracking", "Thermal Aware"], "range": ["#ff0000", "#0000ff"]}, "legend": {"title": null, "orient": "none", "legendX": 184, "legendY": -77, "direction": "horizontal"}}}}
      ]
    }
  ],
  "config": {
    "font": "DejaVu Sans",
    "view": {"stroke": "#000000", "strokeWidth": 1.1},
    "axis": {"grid": false, "domain": false, "ticks": true, "tickColor": "#000000", "tickWidth": 1.1, "tickSize": 4.9, "labelFontSize": 19.4, "labelColor": "#000000", "labelPadding": 5, "labelFlush": false, "labelOverlap": false, "titleFontSize": 19.6, "titleFontWeight": "normal", "titleColor": "#000000", "titleLineHeight": 26},
    "axisX": {"labels": false},
    "legend": {"symbolType": "M-1,0H3", "symbolSize": 361, "symbolStrokeWidth": 2, "labelFontSize": 18.5, "labelColor": "#000000", "labelOffset": 33, "columnPadding": 37, "padding": 7, "strokeColor": "#cccccc", "fillColor": "#ffffff", "cornerRadius": 4, "labelLimit": 300},
    "title": {"fontSize": 24, "fontWeight": "bold", "color": "#000000", "offset": 8, "anchor": "middle", "baseline": "alphabetic", "frame": "group"}
  }
}
